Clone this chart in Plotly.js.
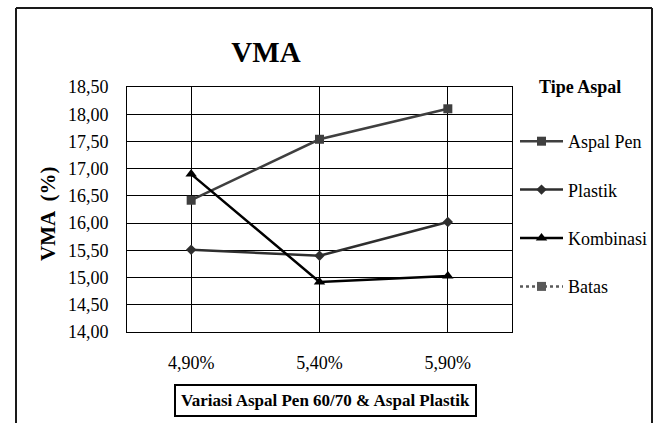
<!DOCTYPE html>
<html>
<head>
<meta charset="utf-8">
<script src="https://cdn.plot.ly/plotly-3.0.1.min.js"></script>
<style>html,body{margin:0;padding:0;background:#fff;}#chart{width:658px;height:423px;}</style>
</head>
<body>
<div id="chart"></div>
<script>
const categories = ["4,90%", "5,40%", "5,90%"];
const aspalPen = [16.42, 17.54, 18.10];
const plastik = [15.51, 15.40, 16.02];
const kombinasi = [16.90, 14.92, 15.03];
const batas = [null, null, null];
const seriesNames = ["Aspal Pen", "Plastik", "Kombinasi", "Batas"];
const yTickVals = [14, 14.5, 15, 15.5, 16, 16.5, 17, 17.5, 18, 18.5];
const yTickText = ["14,00", "14,50", "15,00", "15,50", "16,00", "16,50", "17,00", "17,50", "18,00", "18,50"];

const FONT = "Liberation Serif";
const xIdx = categories.map((c, i) => i);

const traces = [
  {x: xIdx, y: aspalPen, name: seriesNames[0], legendgroup: "a", mode: "lines+markers",
   line: {color: "#3f3f3f", width: 2.5}, marker: {symbol: "square", size: 9, color: "#3f3f3f"}},
  {x: xIdx, y: plastik, name: seriesNames[1], legendgroup: "b", mode: "lines+markers",
   line: {color: "#2e2e2e", width: 2.5}, marker: {symbol: "diamond", size: 8, color: "#2e2e2e"}},
  {x: xIdx, y: kombinasi, name: seriesNames[2], legendgroup: "c", mode: "lines+markers",
   line: {color: "#000000", width: 2.5}, marker: {symbol: "triangle-up", size: 10, color: "#000000"}},
  {x: xIdx, y: batas, name: seriesNames[3], legendgroup: "d", mode: "lines+markers",
   line: {color: "#595959", width: 2.5, dash: "dot"}, marker: {symbol: "square", size: 9, color: "#595959"}}
];

const W = 658, H = 423;
const L = 127, R = 512, T = 87, B = 332;
const px = v => (v - L) / (R - L);
const py = v => (B - v) / (B - T);

const layout = {
  width: W, height: H,
  margin: {l: L, r: W - R, t: T, b: H - B},
  paper_bgcolor: "#ffffff", plot_bgcolor: "#ffffff",
  font: {family: FONT, color: "#000000", size: 18},
  title: {text: "<b>VMA</b>", font: {family: FONT, size: 29, color: "#000"},
          x: 266 / W, xanchor: "center", xref: "container", y: (H - 52) / H, yanchor: "middle", yref: "container"},
  xaxis: {range: [-0.5, 2.5], tickvals: xIdx, ticktext: categories, showgrid: true, gridcolor: "#000", gridwidth: 1,
          showline: true, linecolor: "#000", linewidth: 1, mirror: true, zeroline: false, ticks: "",
          ticklabelstandoff: 14, tickfont: {family: FONT, size: 18, color: "#000"}, fixedrange: true},
  yaxis: {range: [14, 18.5], tickvals: yTickVals, ticktext: yTickText, showgrid: true, gridcolor: "#000", gridwidth: 1,
          showline: true, linecolor: "#000", linewidth: 1, mirror: true, zeroline: false, ticks: "",
          ticklabelstandoff: 14, tickfont: {family: FONT, size: 18, color: "#000"}, fixedrange: true},
  showlegend: true,
  legend: {xref: "container", yref: "container", x: 515 / W, xanchor: "left", y: (H - 123) / H, yanchor: "top",
           traceorder: "grouped", tracegroupgap: 22, itemwidth: 43,
           font: {family: FONT, size: 18, color: "#000"}, bgcolor: "rgba(0,0,0,0)"},
  annotations: [
    {text: "<b>Tipe Aspal</b>", xref: "paper", yref: "paper", x: px(580), y: py(87), xanchor: "center", yanchor: "middle",
     showarrow: false, font: {family: FONT, size: 18, color: "#000"}},
    {text: "<b>VMA  (%)</b>", xref: "paper", yref: "paper", x: px(48), y: py(214), xanchor: "center", yanchor: "middle",
     textangle: -90, showarrow: false, font: {family: FONT, size: 21, color: "#000"}},
    {text: "<b>Variasi Aspal Pen 60/70 & Aspal Plastik</b>", xref: "paper", yref: "paper", x: px(325), y: py(400),
     xanchor: "center", yanchor: "middle", showarrow: false, font: {family: FONT, size: 17, color: "#000"},
     bordercolor: "#000", borderwidth: 2, borderpad: 5, bgcolor: "#fff"}
  ],
  shapes: [
    {type: "line", xref: "paper", yref: "paper", x0: px(16), x1: px(16), y0: py(8), y1: py(430), line: {color: "#1a1a1a", width: 2}},
    {type: "line", xref: "paper", yref: "paper", x0: px(16), x1: px(652), y0: py(8), y1: py(8), line: {color: "#1a1a1a", width: 2}},
    {type: "line", xref: "paper", yref: "paper", x0: px(652), x1: px(652), y0: py(8), y1: py(430), line: {color: "#1a1a1a", width: 2}}
  ]
};

Plotly.newPlot("chart", traces, layout, {displayModeBar: false, staticPlot: true});
</script>
</body>
</html>
